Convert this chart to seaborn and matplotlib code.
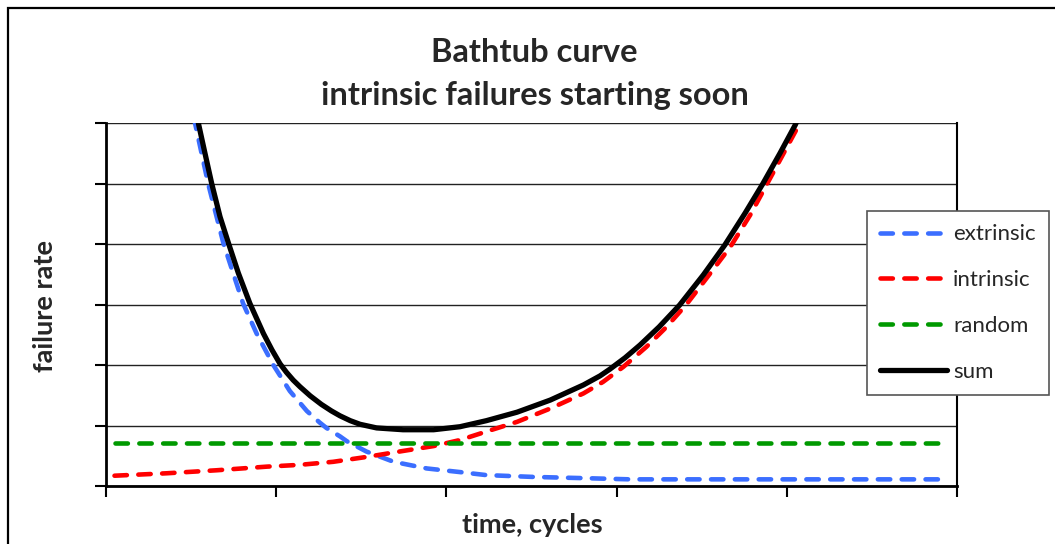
import numpy as np
import pandas as pd
import matplotlib
matplotlib.use("Agg")
import matplotlib.pyplot as plt
import matplotlib.patches as mpatches
import seaborn as sns

# values (time in arbitrary units, rate in grid units)
ext_t = [1, 4, 7, 9, 10.46, 12.0, 13.8, 16.1, 17.7, 19.66, 21.6, 23.6, 25.1, 25.9, 27.5, 28.3,
         30.6, 33.8, 37.7, 41.6, 44.7, 50.2, 56.1, 61.6, 70, 80, 90, 99]
ext_v = [21, 14, 9.5, 7.2, 6.0, 5.0, 4.01, 3.02, 2.52, 2.0, 1.57, 1.24, 1.05, 0.96, 0.82, 0.74,
         0.57, 0.40, 0.29, 0.23, 0.18, 0.15, 0.13, 0.11, 0.11, 0.11, 0.11, 0.11]

int_t = [1, 7.1, 13, 18.9, 22.8, 26.7, 30.6, 34.5, 38.5, 41.6, 44.7, 48.3, 52.2, 56.1, 58.4,
         60.8, 63.5, 65.8, 68.2, 70.6, 73.4, 75.7, 77.4, 79.4, 81.2, 82.5, 85, 99]
int_v = [0.17, 0.21, 0.26, 0.32, 0.35, 0.40, 0.48, 0.57, 0.66, 0.76, 0.90, 1.06, 1.28, 1.53, 1.72,
         1.97, 2.30, 2.62, 3.00, 3.44, 3.96, 4.48, 4.92, 5.44, 5.91, 6.3, 7.2, 16]

rand_t = [1, 99]
rand_v = [0.71, 0.71]

sum_t = [1, 4, 7, 9, 10.85, 11.63, 12.42, 13.4, 14.4, 15.55, 16.9, 18.5, 19.5, 20.45, 21.2,
         22.0, 22.8, 24.0, 25.3, 26.5, 27.5, 28.7, 29.85, 31.8, 34.9, 38.5, 41.6, 44.7, 48.3,
         52.2, 56.1, 58.05, 59.2, 61.0, 62.75, 65.0, 67.4, 70.2, 72.7, 75.1, 77.2, 79.2, 81.0,
         82.3, 85, 99]
sum_v = [21.2, 14.2, 9.7, 7.4, 6.0, 5.5, 5.0, 4.45, 4.01, 3.52, 3.02, 2.52, 2.25, 2.02, 1.88,
         1.75, 1.64, 1.49, 1.35, 1.24, 1.16, 1.08, 1.02, 0.96, 0.93, 0.93, 0.98, 1.08, 1.22,
         1.42, 1.67, 1.82, 1.93, 2.12, 2.33, 2.63, 2.99, 3.49, 3.98, 4.51, 5.0, 5.50, 5.97,
         6.4, 7.3, 16.1]

series = ["extrinsic", "intrinsic", "random", "sum"]
colors = {"extrinsic": "#3b6eff", "intrinsic": "#ff0000", "random": "#009900", "sum": "#000000"}

df = pd.concat([
    pd.DataFrame({"time": ext_t, "rate": ext_v, "series": "extrinsic"}),
    pd.DataFrame({"time": int_t, "rate": int_v, "series": "intrinsic"}),
    pd.DataFrame({"time": rand_t, "rate": rand_v, "series": "random"}),
    pd.DataFrame({"time": sum_t, "rate": sum_v, "series": "sum"}),
], ignore_index=True)

sns.set_style("white")
plt.rcParams["font.family"] = ["Lato", "DejaVu Sans"]

fig = plt.figure(figsize=(10.55, 5.44), dpi=100)
ax = fig.add_axes([106 / 1055, 1 - 486 / 544, 851 / 1055, 363 / 544])

for name in series:
    d = df[df["series"] == name]
    if name == "sum":
        sns.lineplot(data=d, x="time", y="rate", color=colors[name], linewidth=3.8,
                     label=name, legend=False, ax=ax, solid_capstyle="round",
                     solid_joinstyle="round")
    else:
        sns.lineplot(data=d, x="time", y="rate", color=colors[name], linewidth=3.3,
                     linestyle=(0, (2.7, 2.5)), dash_capstyle="round",
                     label=name, legend=False, ax=ax)

ax.set_xlim(0, 100)
ax.set_ylim(0, 6)
ax.set_xticks(np.arange(0, 101, 20))
ax.set_yticks(np.arange(0, 7, 1))
ax.set_xticklabels([])
ax.set_yticklabels([])
ax.tick_params(axis="both", direction="out", length=8, width=1.5, color="black",
               bottom=True, left=True)
ax.yaxis.grid(True, color="#222222", linewidth=1.0)
ax.xaxis.grid(False)
ax.set_axisbelow(True)
for s in ["left", "bottom"]:
    ax.spines[s].set_color("black")
    ax.spines[s].set_linewidth(2.0)
ax.spines["right"].set_color("black")
ax.spines["right"].set_linewidth(1.5)
ax.spines["top"].set_visible(False)

ax.set_xlabel("")
ax.set_ylabel("")
fig.text(532 / 1055, 1 - 525 / 544, "time, cycles", ha="center", va="center",
         fontsize=19.5, fontweight="bold")
fig.text(45 / 1055, 1 - 306 / 544, "failure rate", ha="center", va="center",
         rotation=90, fontsize=19.5, fontweight="bold")
fig.text(534 / 1055, 1 - 52 / 544, "Bathtub curve", ha="center", va="center",
         fontsize=23.5, fontweight="bold")
fig.text(535 / 1055, 1 - 96 / 544, "intrinsic failures starting soon", ha="center",
         va="center", fontsize=23.5, fontweight="bold")

leg = ax.legend(loc="upper left", bbox_to_anchor=(867 / 1055, 1 - 211 / 544),
                bbox_transform=fig.transFigure, borderaxespad=0, fontsize=16,
                handlelength=3.0, handletextpad=0.27, labelspacing=1.16,
                borderpad=0.6, frameon=True, fancybox=False)
leg.get_frame().set_edgecolor("#555555")
leg.get_frame().set_linewidth(1.2)
leg.get_frame().set_facecolor("white")
leg.get_frame().set_alpha(1)

fig.patches.append(mpatches.Rectangle((8 / 1055, -0.1), 1.2, (544 - 8) / 544 + 0.1,
                                      transform=fig.transFigure, fill=False,
                                      edgecolor="black", linewidth=1.6))

fig.savefig("out.png", dpi=100)
